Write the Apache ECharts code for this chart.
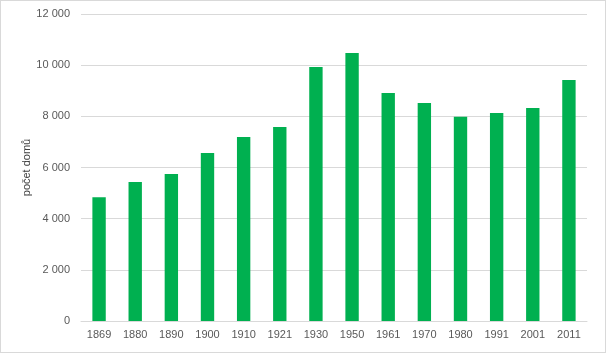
<!DOCTYPE html>
<html>
<head>
<meta charset="utf-8">
<script src="https://cdn.jsdelivr.net/npm/echarts@6/dist/echarts.min.js"></script>
<style>
  html, body { margin: 0; padding: 0; background: #fff; }
  #chart { width: 604px; height: 351px; border: 1px solid #d9d9d9; }
</style>
</head>
<body>
<div id="chart"></div>
<script>
// roky scitani
var years = ['1869', '1880', '1890', '1900', '1910', '1921', '1930', '1950', '1961', '1970', '1980', '1991', '2001', '2011'];
// pocet domu
var houses = [4840, 5430, 5750, 6570, 7190, 7580, 9930, 10480, 8910, 8520, 7980, 8130, 8330, 9420];

var yMax = 12000;
var yStep = 2000;

function fmt(v) {
    // mezera jako oddelovac tisicu
    return String(v).replace(/\B(?=(\d{3})+(?!\d))/g, ' ');
}

var chart = echarts.init(document.getElementById('chart'));
chart.setOption({
    animation: false,
    textStyle: { fontFamily: 'Liberation Sans, Arial, sans-serif' },
    grid: { left: 80, right: 18, top: 13, bottom: 31, containLabel: false },
    xAxis: {
        type: 'category',
        data: years,
        axisLine: { lineStyle: { color: '#d9d9d9' } },
        axisTick: { show: false },
        axisLabel: { color: '#595959', fontSize: 11, margin: 8 }
    },
    yAxis: {
        type: 'value',
        min: 0,
        max: yMax,
        interval: yStep,
        name: 'počet domů',
        nameLocation: 'middle',
        nameGap: 49,
        nameMoveOverlap: false,
        nameTextStyle: { color: '#404040', fontSize: 11 },
        axisLine: { show: false },
        axisTick: { show: false },
        axisLabel: { color: '#595959', fontSize: 11, margin: 11, formatter: fmt },
        splitLine: { lineStyle: { color: '#d9d9d9' } }
    },
    series: [{
        type: 'bar',
        data: houses,
        barWidth: '37%',
        itemStyle: { color: '#00b050' }
    }]
});
</script>
</body>
</html>
